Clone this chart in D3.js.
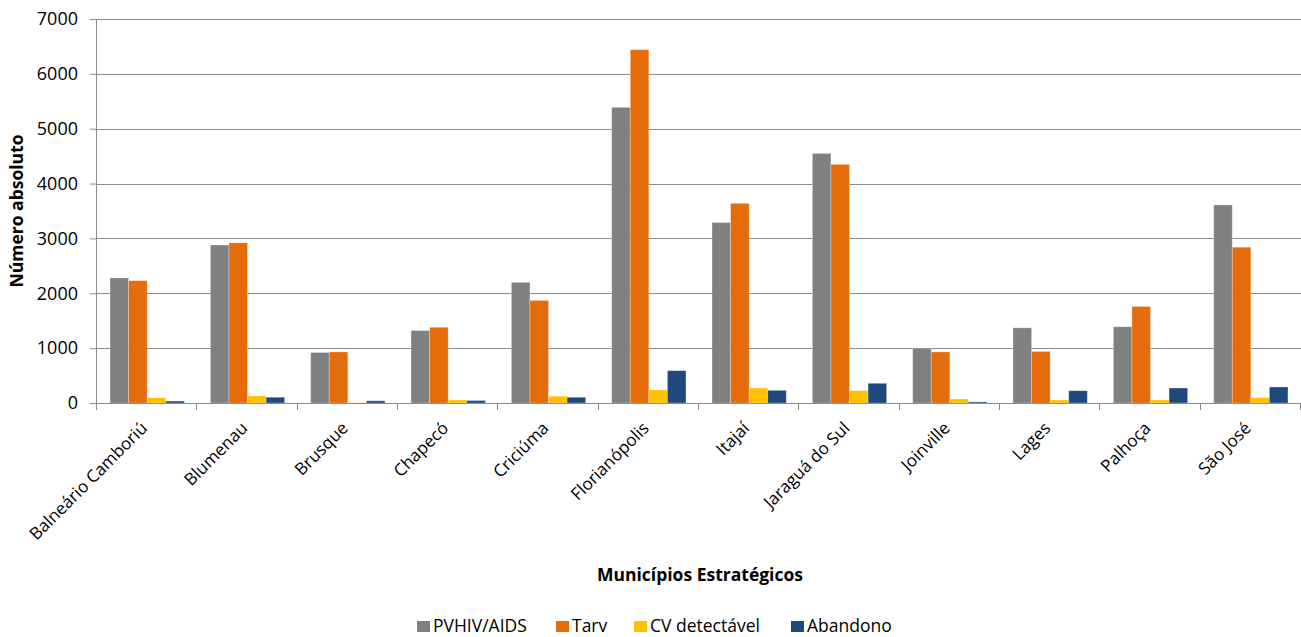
<!DOCTYPE html>
<html>
<head>
<meta charset="utf-8">
<script src="https://cdn.jsdelivr.net/npm/d3@7"></script>
<style>
  html, body { margin: 0; padding: 0; background: #fff; }
  svg { display: block; font-family: "Open Sans", "Noto Sans", sans-serif; }
</style>
</head>
<body>
<svg id="chart" width="1301" height="637"></svg>
<script>
// Municípios estratégicos de Santa Catarina
const municipios = ["Balneário Camboriú", "Blumenau", "Brusque", "Chapecó", "Criciúma",
  "Florianópolis", "Itajaí", "Jaraguá do Sul", "Joinville", "Lages", "Palhoça", "São José"];

const seriesNames = ["PVHIV/AIDS", "Tarv", "CV detectável", "Abandono"];
const seriesColors = ["#808080", "#E46C0A", "#FFC000", "#1F497D"];

const pvhiv      = [2280, 2880, 920, 1320, 2200, 5390, 3290, 4550, 1000, 1370, 1390, 3610];
const tarv       = [2230, 2920, 930, 1380, 1870, 6440, 3640, 4350, 930, 940, 1760, 2840];
const cvDetect   = [95, 128, 8, 55, 125, 237, 273, 225, 73, 55, 55, 97];
const abandono   = [35, 105, 40, 45, 105, 589, 231, 359, 20, 224, 273, 292];

const yTicks = [0, 1000, 2000, 3000, 4000, 5000, 6000, 7000];

const seriesValues = [pvhiv, tarv, cvDetect, abandono];

const svg = d3.select("#chart");
const margin = { top: 19, right: 0, bottom: 234, left: 97 };
const width = 1301 - margin.left - margin.right;
const height = 637 - margin.top - margin.bottom;

const g = svg.append("g").attr("transform", `translate(${margin.left},${margin.top})`);

const x0 = d3.scaleBand().domain(municipios).range([0, width]).paddingInner(0.26).paddingOuter(0.13);
const x1 = d3.scaleBand().domain(seriesNames).range([0, x0.bandwidth()]);
const y = d3.scaleLinear().domain([0, 7000]).range([height, 0]);

// horizontal gridlines
g.append("g")
  .selectAll("line")
  .data(yTicks)
  .join("line")
  .attr("x1", 0).attr("x2", width)
  .attr("y1", d => Math.round(y(d)) + 0.5).attr("y2", d => Math.round(y(d)) + 0.5)
  .attr("stroke", "#8c8c8c").attr("stroke-width", 1);

// bars
const groups = g.append("g")
  .selectAll("g")
  .data(municipios)
  .join("g")
  .attr("transform", d => `translate(${x0(d)},0)`);

groups.selectAll("rect")
  .data((d, i) => seriesNames.map((s, k) => ({ s, k, v: seriesValues[k][i] })))
  .join("rect")
  .attr("x", d => x1(d.s))
  .attr("width", x1.bandwidth())
  .attr("y", d => y(d.v))
  .attr("height", d => y(0) - y(d.v))
  .attr("fill", d => seriesColors[d.k])
  .attr("stroke", "rgba(255,255,255,0.35)")
  .attr("stroke-width", 0.8);

// y axis
const yAxis = g.append("g")
  .call(d3.axisLeft(y).tickValues(yTicks).tickSize(7).tickPadding(12).tickFormat(d3.format("d")));
yAxis.select(".domain").attr("stroke", "#8c8c8c").attr("d", `M-0.5,${height}V0`);
yAxis.selectAll(".tick line").attr("stroke", "#8c8c8c");
yAxis.selectAll(".tick text").attr("fill", "#000").style("font-size", "18px")
  .style("font-family", "'Open Sans', sans-serif");

// x axis with ticks at category boundaries
const xAxisG = g.append("g").attr("transform", `translate(0,${height})`);
xAxisG.append("line").attr("x1", 0).attr("x2", width).attr("y1", 0.5).attr("y2", 0.5).attr("stroke", "#8c8c8c");
const boundaries = d3.range(municipios.length + 1).map(i => i * x0.step());
xAxisG.selectAll("line.tk")
  .data(boundaries)
  .join("line")
  .attr("class", "tk")
  .attr("x1", d => Math.round(d) - 0.5).attr("x2", d => Math.round(d) - 0.5)
  .attr("y1", 0).attr("y2", 7)
  .attr("stroke", "#8c8c8c");

xAxisG.selectAll("text.cat")
  .data(municipios)
  .join("text")
  .attr("class", "cat")
  .attr("text-anchor", "end")
  .attr("transform", d => `translate(${x0(d) + x0.bandwidth() / 2 - 3},${22}) rotate(-45)`)
  .attr("dy", "0.35em")
  .style("font-size", "17px")
  .attr("fill", "#000")
  .text(d => d);

// axis titles
svg.append("text")
  .attr("transform", `translate(23,${margin.top + height / 2}) rotate(-90)`)
  .attr("text-anchor", "middle")
  .style("font-size", "17.5px").style("font-weight", "bold")
  .text("Número absoluto");

svg.append("text")
  .attr("x", 700).attr("y", 581)
  .attr("text-anchor", "middle")
  .style("font-size", "17.5px").style("font-weight", "bold")
  .text("Municípios Estratégicos");

// legend
const legendX = [417, 556, 634, 791];
const legend = svg.append("g").selectAll("g")
  .data(seriesNames)
  .join("g")
  .attr("transform", (d, i) => `translate(${legendX[i]},621)`);
legend.append("rect").attr("width", 13).attr("height", 11).attr("fill", (d, i) => seriesColors[i]);
legend.append("text").attr("x", 16).attr("y", 11)
  .style("font-size", "17.5px").text(d => d);
</script>
</body>
</html>
